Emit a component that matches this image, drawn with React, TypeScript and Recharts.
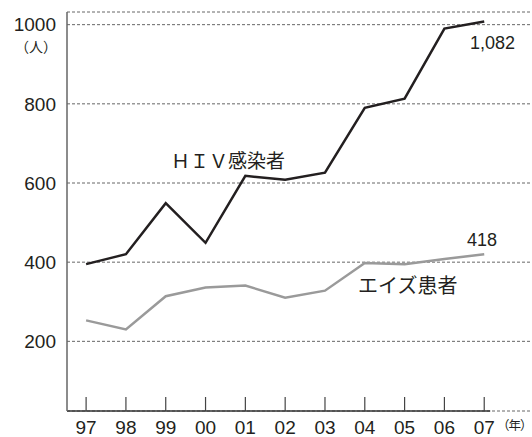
import React from 'react';
import { LineChart, Line, XAxis, YAxis, CartesianGrid, ReferenceLine } from 'recharts';

// ── Data ────────────────────────────────────────────────────

const YEARS = ['97', '98', '99', '00', '01', '02', '03', '04', '05', '06', '07'];
const HIV = [395, 420, 549, 449, 618, 608, 626, 790, 813, 990, 1008];
const AIDS = [253, 230, 314, 336, 341, 310, 328, 398, 395, 408, 420];
const Y_TICKS = [200, 400, 600, 800, 1000];

const chartData = YEARS.map((y, i) => ({ idx: i, year: y, hiv: HIV[i], aids: AIDS[i] }));

const NUM_FONT = "'Liberation Sans', Arial, 'Noto Sans CJK JP', sans-serif";
const JP_FONT = "'Noto Sans CJK JP', 'Liberation Sans', sans-serif";

function XTick(props: any) {
  const { x, y, payload } = props;
  return (
    <g>
      <line x1={x} y1={y} x2={x} y2={y - 14} stroke="#444" strokeWidth={1.2} />
      <text x={x} y={y + 23} textAnchor="middle" fontSize={19} fontFamily={NUM_FONT} fill="#231f20">
        {YEARS[payload.value]}
      </text>
    </g>
  );
}

const label = (text: string, left: number, top: number, size: number, font: string, spacing = 0) => (
  <div
    style={{
      position: 'absolute',
      left,
      top,
      fontSize: size,
      lineHeight: 1,
      fontFamily: font,
      color: '#231f20',
      whiteSpace: 'nowrap',
      letterSpacing: spacing,
    }}
  >
    {text}
  </div>
);

export default function App() {
  return (
    <div style={{ position: 'absolute', left: 0, top: 0, width: 532, height: 437, background: '#fff' }}>
      <LineChart width={532} height={437} data={chartData} margin={{ top: 12, right: 0, bottom: 0, left: 0 }}>
        <CartesianGrid horizontal vertical={false} stroke="#666" strokeDasharray="3 2" strokeWidth={1} />
        <XAxis
          dataKey="idx"
          type="number"
          domain={[-0.48, 11.2]}
          ticks={[0, 1, 2, 3, 4, 5, 6, 7, 8, 9, 10]}
          axisLine={false}
          tickLine={false}
          tickSize={0}
          tickMargin={0}
          height={26}
          tick={<XTick />}
          interval={0}
        />
        <YAxis
          type="number"
          domain={[24, 1032]}
          ticks={Y_TICKS}
          width={67}
          axisLine={{ stroke: '#666', strokeWidth: 1.5 }}
          tickLine={false}
          tickSize={0}
          tickMargin={11}
          tick={{ fontSize: 19, fontFamily: NUM_FONT, fill: '#231f20' }}
          interval={0}
        />
        <ReferenceLine
          segment={[{ x: -0.48, y: 24 }, { x: 10.15, y: 24 }]}
          stroke="#333"
          strokeWidth={1.5}
          ifOverflow="visible"
        />
        <Line
          type="linear"
          dataKey="aids"
          stroke="#9a9a9a"
          strokeWidth={2.5}
          dot={false}
          isAnimationActive={false}
        />
        <Line
          type="linear"
          dataKey="hiv"
          stroke="#231f20"
          strokeWidth={2.5}
          dot={false}
          isAnimationActive={false}
        />
      </LineChart>
      {label('（人）', 15, 39, 14, JP_FONT)}
      {label('1,082', 470, 34, 18, NUM_FONT)}
      {label('418', 467, 231, 18, NUM_FONT)}
      {label('ＨＩＶ感染者', 171, 150, 19, JP_FONT)}
      {label('エイズ患者', 358, 275, 20, JP_FONT)}
      {label('（年）', 497, 419, 12.5, JP_FONT, -1)}
    </div>
  );
}
